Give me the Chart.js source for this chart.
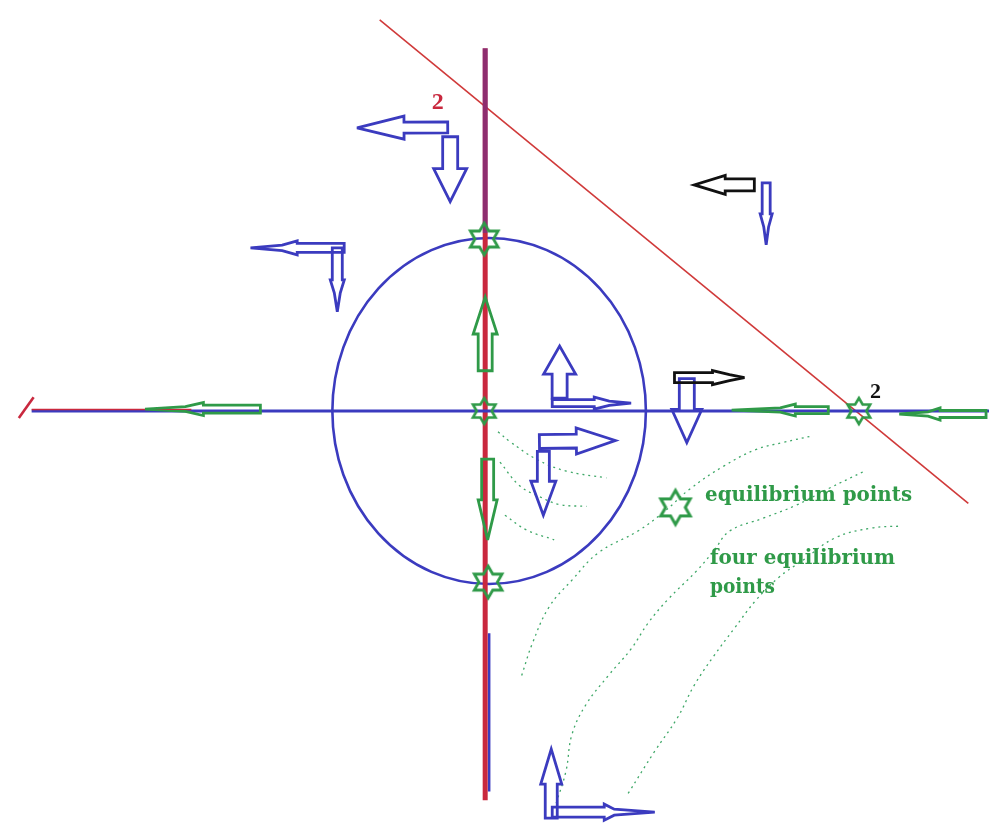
<!DOCTYPE html>
<html><head><meta charset="utf-8">
<script src="https://cdn.jsdelivr.net/npm/chart.js@4/dist/chart.umd.min.js"></script>
<style>html,body{margin:0;padding:0;background:#fff;overflow:hidden}canvas{display:block}</style>
</head><body>
<canvas id="c" width="996" height="827" style="width:996px;height:827px"></canvas>
<script>
// ---- axis extents (origin = central equilibrium point) ----
const xRange = [-484, 512];
const yRange = [-416, 411];

// ---- straight lines ----
const verticalRed    = [[1, 369], [1, -396]];
const verticalTint   = [[1, 369], [1, 181]];
const verticalBlue   = [[5, -226], [5, -387]];
const horizontalBlue = [[-459, 0], [512, 0]];
const horizontalRed  = [[-459, 1.5], [-297, 1.5]];
const slashRed       = [[-472, -7], [-457, 14]];
const diagonalRed    = [[-106, 398], [491, -94]];

// ---- ellipse (centre, radii) ----
const ellipseCenter = [5, 0];
const ellipseRadii  = [159, 176];

// ---- equilibrium points ----
const equilibria = [[0, 175], [0, 0], [4, -174], [380, 0]];
const legendStar = [[194, -98]];

// ---- dotted trajectories ----
const trajA = [[14,-21],[26,-31],[53,-49],[83,-61],[124,-68]];
const trajB = [[16,-52],[36,-76],[56,-87],[76,-95],[104,-97]];
const trajC = [[21,-106],[43,-121],[71,-131]];
const trajD = [[38,-269],[49,-236],[66,-199],[89,-172],[116,-144],[156,-122],[183,-102],[209,-79],[243,-56],[276,-39],[303,-32],[334,-25]];
const trajE = [[73,-399],[83,-366],[89,-329],[103,-299],[126,-269],[149,-242],[166,-216],[186,-192],[216,-162],[233,-142],[249,-122],[283,-109],[316,-96],[349,-79],[386,-61]];
const trajF = [[146,-389],[173,-346],[196,-312],[213,-279],[233,-249],[253,-222],[276,-192],[299,-169],[323,-152],[356,-129],[393,-119],[423,-117]];

// ---- direction arrows: tail -> tip ----
const arrowTail = [[-37,288.5],[-34.5,279],[274,230],[1,41],[76.5,13],[56,-31],[60,-41],[3.5,-49],[205.5,33],[68,-414],
                   [286,232],[-142,166],[-149,166],[69,8],[193,34],[349,1],[-227,2],[509,-3],[69,-408]];
const arrowTip  = [[-129,288],[-34.5,213],[213,230],[1,116],[76.5,66],[133,-30],[60,-106],[3.5,-131],[205.5,-32],[68,-344],
                   [286,169],[-237,166],[-149,101],[149,8],[264,34],[251,1],[-344,2],[421,-3],[173,-408]];

// ---- text labels ----
const labelText = ['2', '2', 'equilibrium points', 'four equilibrium', 'points'];
const labelPos  = [[-47, 314], [397, 19], [224, -91], [229, -156], [229, -185]];

// ================= styles =================
const BLUE = '#3b3bbf', GREEN = '#2f9a48', RED = '#c9283e', BLACK = '#111111', DOT = '#3fa868';
const arrowLook = [
  {c:BLUE,k:'block',w:5.5,h:11.5,L:47},{c:BLUE,k:'block',w:7.5,h:16.5,L:33},{c:BLACK,k:'block',w:6,h:9.5,L:31},
  {c:GREEN,k:'block',w:7,h:12,L:37},{c:BLUE,k:'block',w:7.5,h:16,L:28},{c:BLUE,k:'block',w:7,h:13,L:39},
  {c:BLUE,k:'block',w:6,h:12.5,L:34},{c:GREEN,k:'block',w:6,h:9.5,L:40},{c:BLUE,k:'block',w:7.5,h:15,L:33},
  {c:BLUE,k:'block',w:6,h:10.5,L:35},
  {c:BLUE,k:'needle',w:4,h:6,b0:31,b1:13},{c:BLUE,k:'needle',w:4.5,h:7,b0:47,b1:15},{c:BLUE,k:'needle',w:5,h:7,b0:32,b1:13},
  {c:BLUE,k:'needle',w:3.5,h:6,b0:42,b1:15},{c:BLACK,k:'needle',w:5,h:7,b0:38,b1:17},{c:GREEN,k:'needle',w:3.5,h:6,b0:33,b1:15},
  {c:GREEN,k:'needle',w:4,h:6.5,b0:57,b1:18},{c:GREEN,k:'needle',w:3.5,h:6,b0:46,b1:12},{c:BLUE,k:'needle',w:5,h:8,b0:52,b1:10}
];
const labelLook = [
  {c:RED,  f:'bold 24px "Liberation Serif"', a:'center', wd:0},
  {c:BLACK,f:'bold 22px "Liberation Serif"', a:'center', wd:0},
  {c:GREEN,f:'bold 20px "DejaVu Serif"', a:'left', wd:207},
  {c:GREEN,f:'bold 20px "DejaVu Serif"', a:'left', wd:185},
  {c:GREEN,f:'bold 20px "DejaVu Serif"', a:'left', wd:65}
];

const xy = arr => arr.map(([x, y]) => ({x, y}));

function starImage(R, color, lw) {
  const s = Math.ceil(2 * R + 2 * lw + 2);
  const cv = document.createElement('canvas');
  cv.width = s; cv.height = s;
  const g = cv.getContext('2d');
  const r = R / Math.sqrt(3);
  g.beginPath();
  for (let i = 0; i < 12; i++) {
    const ang = -Math.PI / 2 + i * Math.PI / 6;
    const rr = i % 2 ? r : R;
    const px = s / 2 + rr * Math.cos(ang), py = s / 2 + rr * Math.sin(ang);
    i ? g.lineTo(px, py) : g.moveTo(px, py);
  }
  g.closePath();
  g.strokeStyle = color; g.lineWidth = lw; g.lineJoin = 'miter';
  g.stroke();
  return cv;
}

function lineDS(pts, color, width, order, extra) {
  return Object.assign({data: xy(pts), showLine: true, borderColor: color, borderWidth: width,
    pointRadius: 0, tension: 0, fill: false, order: order, borderCapStyle: 'butt'}, extra || {});
}
const dotted = {borderDash: [2, 4], tension: 0.4};

const shapesPlugin = {
  id: 'shapes',
  beforeDatasetsDraw(chart) {
    const {ctx, scales: {x, y}} = chart;
    ctx.save();
    const cx = x.getPixelForValue(ellipseCenter[0]), cy = y.getPixelForValue(ellipseCenter[1]);
    const rx = Math.abs(x.getPixelForValue(ellipseCenter[0] + ellipseRadii[0]) - cx);
    const ry = Math.abs(y.getPixelForValue(ellipseCenter[1] + ellipseRadii[1]) - cy);
    ctx.beginPath();
    ctx.ellipse(cx, cy, rx, ry, 0, 0, Math.PI * 2);
    ctx.strokeStyle = BLUE; ctx.lineWidth = 2.6;
    ctx.stroke();
    ctx.restore();
  },
  afterDatasetsDraw(chart) {
    const {ctx, scales: {x, y}} = chart;
    ctx.save();
    arrowTail.forEach((t, i) => {
      const s = arrowLook[i];
      const T = [x.getPixelForValue(t[0]), y.getPixelForValue(t[1])];
      const Q = [x.getPixelForValue(arrowTip[i][0]), y.getPixelForValue(arrowTip[i][1])];
      const dx = Q[0] - T[0], dy = Q[1] - T[1], len = Math.hypot(dx, dy);
      const ux = dx / len, uy = dy / len, vx = -uy, vy = ux;
      let pts;
      if (s.k === 'block') {
        const b = len - s.L;
        pts = [[0, s.w], [b, s.w], [b, s.h], [len, 0], [b, -s.h], [b, -s.w], [0, -s.w]];
      } else {
        const b0 = s.b0, b1 = s.b0 + s.b1;
        pts = [[0, s.w], [b0, s.w], [b0, s.h], [b1, s.w * 0.6], [len, 0], [b1, -s.w * 0.6], [b0, -s.h], [b0, -s.w], [0, -s.w]];
      }
      ctx.beginPath();
      pts.forEach(([a, b], j) => {
        const X = T[0] + ux * a + vx * b, Y = T[1] + uy * a + vy * b;
        j ? ctx.lineTo(X, Y) : ctx.moveTo(X, Y);
      });
      ctx.closePath();
      ctx.strokeStyle = s.c; ctx.lineWidth = 2.8; ctx.lineJoin = 'miter'; ctx.miterLimit = 4;
      ctx.stroke();
    });
    labelText.forEach((txt, i) => {
      const s = labelLook[i];
      const X = x.getPixelForValue(labelPos[i][0]), Y = y.getPixelForValue(labelPos[i][1]);
      ctx.font = s.f; ctx.fillStyle = s.c; ctx.textAlign = s.a;
      ctx.textBaseline = s.a === 'center' ? 'middle' : 'alphabetic';
      ctx.save();
      ctx.translate(X, Y);
      if (s.wd) { const m = ctx.measureText(txt).width; ctx.scale(s.wd / m, 1); }
      ctx.fillText(txt, 0, 0);
      ctx.restore();
    });
    ctx.restore();
  }
};

new Chart(document.getElementById('c'), {
  type: 'scatter',
  data: {
    datasets: [
      {data: xy(equilibria), pointStyle: [starImage(16, GREEN, 2.8), starImage(13, GREEN, 2.6), starImage(16, GREEN, 2.8), starImage(13, GREEN, 2.6)],
       pointRadius: 6, showLine: false, order: 0},
      {data: xy(legendStar), pointStyle: starImage(17, GREEN, 3), pointRadius: 6, showLine: false, order: 0},
      lineDS(horizontalRed, RED, 1.6, 1),
      lineDS(slashRed, RED, 2.6, 1),
      lineDS(horizontalBlue, BLUE, 3, 2),
      lineDS(verticalTint, 'rgba(70,50,170,0.45)', 5, 3),
      lineDS(verticalRed, RED, 5, 4),
      lineDS(verticalBlue, BLUE, 2.6, 5),
      lineDS(diagonalRed, '#d03a3a', 1.6, 6),
      lineDS(trajA, DOT, 1.3, 7, dotted),
      lineDS(trajB, DOT, 1.3, 7, dotted),
      lineDS(trajC, DOT, 1.3, 7, dotted),
      lineDS(trajD, DOT, 1.3, 7, dotted),
      lineDS(trajE, DOT, 1.3, 7, dotted),
      lineDS(trajF, DOT, 1.3, 7, dotted)
    ]
  },
  options: {
    responsive: false, animation: false, devicePixelRatio: 1,
    layout: {padding: 0},
    plugins: {legend: {display: false}, tooltip: {enabled: false}},
    scales: {
      x: {type: 'linear', min: xRange[0], max: xRange[1], display: false},
      y: {type: 'linear', min: yRange[0], max: yRange[1], display: false}
    }
  },
  plugins: [shapesPlugin]
});
</script>
</body></html>
